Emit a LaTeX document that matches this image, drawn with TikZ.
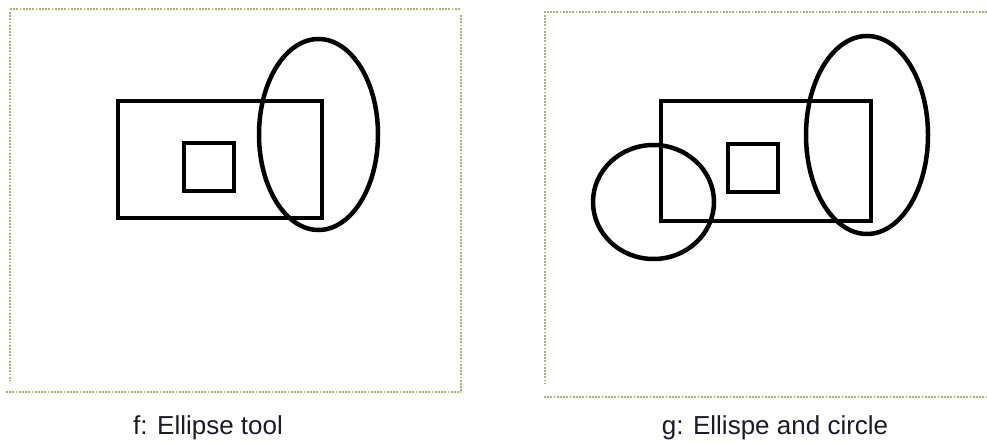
\documentclass[tikz,border=0pt]{standalone}
\usepackage{fontspec}
\setmainfont{Liberation Sans}
\definecolor{dotcol}{RGB}{175,175,110}
\definecolor{capcol}{RGB}{30,25,40}
\begin{document}
\begin{tikzpicture}[x=1pt,y=-1pt,
  outl/.style={draw=black,line width=4.5pt},
  dotframe/.style={draw=dotcol,line width=1.6pt,dash pattern=on 1.8pt off 1.4pt},
  capt/.style={text=capcol,font=\fontsize{26}{30}\selectfont,inner sep=0pt}]
\useasboundingbox (0,0) rectangle (987,443);
% left panel frame
\draw[dotframe] (10,9) -- (461,9);
\draw[dotframe] (10,12) -- (10,381);
\draw[dotframe] (461,15) -- (461,392);
\draw[dotframe] (6,392) -- (461,392);
% left panel shapes
\draw[outl] (118,101) rectangle (322,218);
\draw[outl] (184,143) rectangle (234,191);
\draw[outl] (318.5,134.5) ellipse [x radius=59.5, y radius=95.5];
\node[capt] (capf) at (208,428) {f: Ellipse tool};
% right panel frame
\draw[dotframe] (987,12) -- (545,12) -- (545,384);
\draw[dotframe] (544,397) -- (987,397);
% right panel shapes
\draw[outl] (661,101) rectangle (871,221);
\draw[outl] (728,144) rectangle (778,192);
\draw[outl] (867,135) ellipse [x radius=61, y radius=99];
\draw[outl] (653.5,202) ellipse [x radius=60.5, y radius=57];
\node[capt] (capg) at (775,428) {g: Ellispe and circle};
\end{tikzpicture}
\end{document}
